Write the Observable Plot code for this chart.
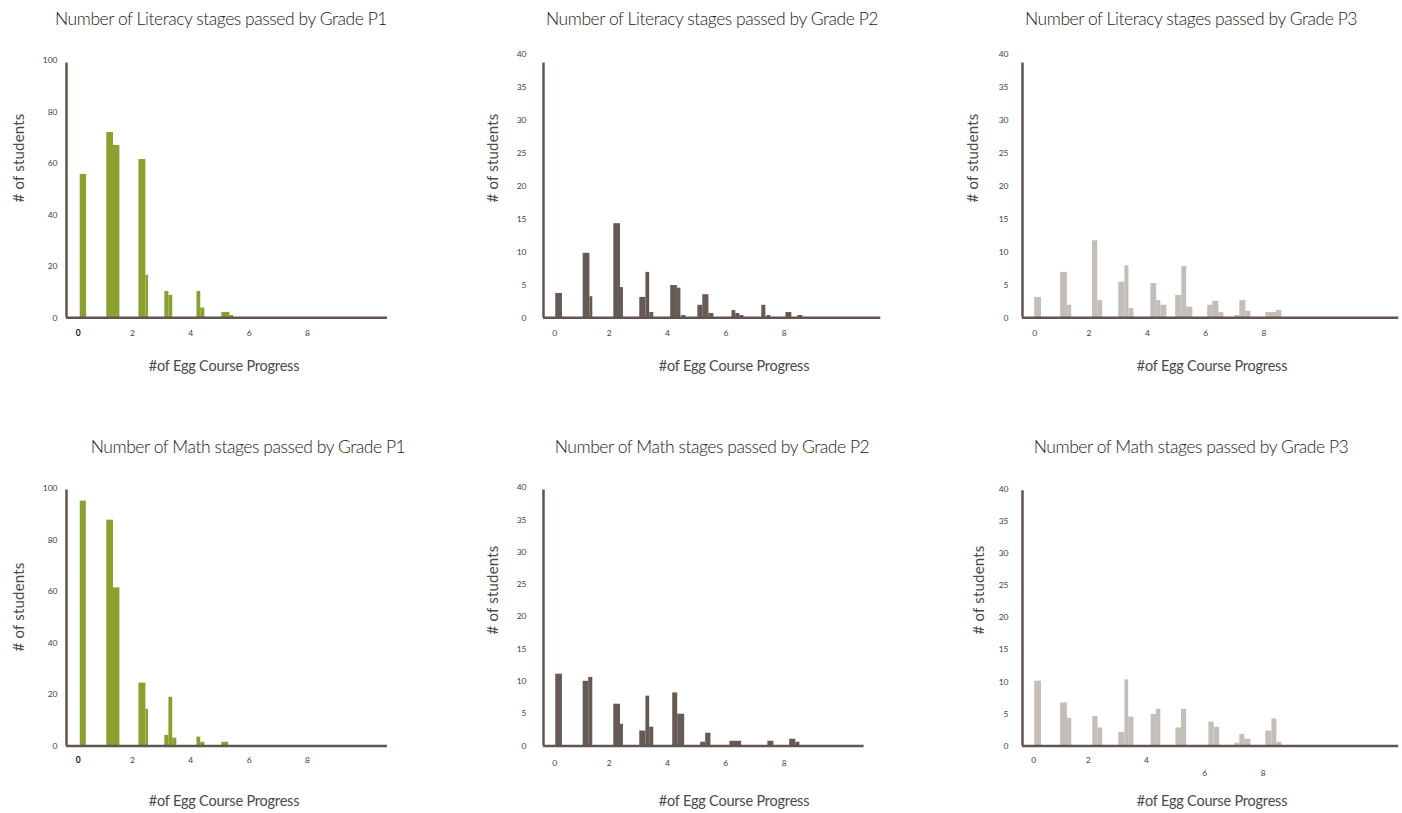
<!DOCTYPE html>
<html><head><meta charset="utf-8">
<script src="https://cdn.jsdelivr.net/npm/d3@7"></script>
<script src="https://cdn.jsdelivr.net/npm/@observablehq/plot@0.6"></script>
<style>
body{margin:0;background:#fff;width:1402px;height:813px;position:relative;overflow:hidden;font-family:Lato,"Open Sans",sans-serif;}
.t{position:absolute;font-size:17.5px;font-weight:300;letter-spacing:-0.45px;color:#222;white-space:nowrap;transform:translate(-50%,-50%);}
.xl{position:absolute;font-size:14.5px;font-weight:400;letter-spacing:-0.2px;color:#4a4a4a;white-space:nowrap;transform:translate(-50%,-50%);}
.yl{position:absolute;font-size:15px;font-weight:400;letter-spacing:0.2px;color:#4a4a4a;white-space:nowrap;transform:translate(-50%,-50%) rotate(-90deg);}
.p{position:absolute;}
</style></head><body>
<script>
// ---- data: [bin start, bin end, # of students] ----
const xTickValues = [0, 2, 4, 6, 8];
const yTicks100 = [0, 20, 40, 60, 80, 100];
const yTicks40 = [0, 5, 10, 15, 20, 25, 30, 35, 40];
const titles = [
  "Number of Literacy stages passed by Grade P1",
  "Number of Literacy stages passed by Grade P2",
  "Number of Literacy stages passed by Grade P3",
  "Number of Math stages passed by Grade P1",
  "Number of Math stages passed by Grade P2",
  "Number of Math stages passed by Grade P3"
];
const xLabel = "#of Egg Course Progress";
const yLabel = "# of students";

const litP1 = [[0.21,0.43,55.7],[1.12,1.35,72.0],[1.35,1.57,67.0],[2.22,2.46,61.5],[2.46,2.55,16.5],
  [3.11,3.25,10.2],[3.25,3.38,8.7],[4.21,4.34,10.2],[4.34,4.48,3.8],[5.06,5.34,2.1],[5.34,5.47,0.9]];
const litP2 = [[0.17,0.40,3.7],[1.11,1.34,9.8],[1.34,1.44,3.2],[2.16,2.39,14.3],[2.39,2.49,4.6],
  [3.05,3.26,3.1],[3.26,3.39,6.9],[3.39,3.53,0.8],[4.11,4.34,4.9],[4.34,4.46,4.5],[4.49,4.63,0.35],
  [5.04,5.21,1.9],[5.21,5.42,3.5],[5.42,5.59,0.66],[6.21,6.34,1.1],[6.34,6.48,0.66],[6.48,6.62,0.35],
  [7.23,7.37,1.9],[7.41,7.54,0.35],[8.06,8.26,0.8],[8.47,8.64,0.35]];
const litP3 = [[0.14,0.37,3.1],[1.03,1.26,6.9],[1.26,1.41,1.9],[2.12,2.30,11.7],[2.30,2.47,2.6],
  [3.02,3.23,5.4],[3.23,3.37,7.9],[3.37,3.54,1.4],[4.12,4.32,5.2],[4.32,4.46,2.6],[4.46,4.67,1.9],
  [4.97,5.18,3.4],[5.18,5.35,7.8],[5.35,5.56,1.6],[6.07,6.24,1.9],[6.24,6.45,2.5],[6.45,6.62,0.8],
  [7.00,7.17,0.35],[7.17,7.38,2.6],[7.38,7.55,1.0],[8.06,8.43,0.8],[8.43,8.61,1.1]];
const mathP1 = [[0.21,0.42,95.1],[1.12,1.35,87.7],[1.35,1.57,61.4],[2.22,2.46,24.4],[2.46,2.55,14.2],
  [3.11,3.25,4.1],[3.25,3.38,18.9],[3.38,3.52,3.0],[4.21,4.34,3.4],[4.34,4.48,1.4],[5.06,5.30,1.4]];
const mathP2 = [[0.17,0.40,11.1],[1.11,1.30,10.0],[1.30,1.44,10.6],[2.16,2.39,6.45],[2.39,2.49,3.35],
  [3.05,3.26,2.3],[3.26,3.39,7.7],[3.39,3.53,2.9],[4.18,4.35,8.2],[4.35,4.59,4.9],[5.14,5.31,0.57],
  [5.31,5.49,1.96],[6.14,6.54,0.72],[7.44,7.65,0.72],[8.19,8.40,1.03],[8.40,8.54,0.57]];
const mathP3 = [[0.17,0.40,10.1],[1.06,1.29,6.7],[1.29,1.44,4.3],[2.16,2.34,4.6],[2.34,2.50,2.8],
  [3.05,3.26,2.1],[3.26,3.39,10.3],[3.39,3.57,4.5],[4.16,4.34,4.9],[4.34,4.49,5.7],[5.01,5.20,2.8],
  [5.20,5.38,5.7],[6.14,6.32,3.7],[6.32,6.51,2.9],[7.03,7.20,0.42],[7.20,7.37,1.8],[7.37,7.58,1.04],
  [8.09,8.30,2.3],[8.30,8.47,4.2],[8.47,8.64,0.57]];

// ---- styles / layout ----
const green = "#8aa132", brown = "#665a55", grey = "#c4beb9", axisColor = "#62544f";
const panels = [
  {data: litP1, color: green, yMax: 100, yTicks: yTicks100, axisTop: 99, xDom: [-0.26, 10.74],
   box: [65.7, 386.7, 317.3, 60], ypad: 9, xpad: 12, title: [221, 18], yl: [18, 158], xl: [224, 365], boldZero: true},
  {data: litP2, color: brown, yMax: 40, yTicks: yTicks40, axisTop: 38.7, xDom: [-0.25, 11.31],
   box: [542.7, 880, 317.3, 54], ypad: 17, xpad: 12, title: [712, 18], yl: [492, 158], xl: [734, 365]},
  {data: litP3, color: grey, yMax: 40, yTicks: yTicks40, axisTop: 38.7, xDom: [-0.28, 12.62],
   box: [1021.7, 1398, 317.3, 54], ypad: 14, xpad: 12, title: [1191, 18], yl: [972, 158], xl: [1212, 365]},
  {data: mathP1, color: green, yMax: 100, yTicks: yTicks100, axisTop: 99.4, xDom: [-0.26, 10.74],
   box: [65.7, 386.7, 745.7, 488.3], ypad: 9, xpad: 11, title: [248, 446], yl: [18, 607], xl: [224, 800], boldZero: true},
  {data: mathP2, color: brown, yMax: 40, yTicks: yTicks40, axisTop: 39.6, xDom: [-0.25, 10.74],
   box: [542.7, 863.3, 745.7, 487.3], ypad: 17, xpad: 14, title: [712, 446], yl: [492, 590], xl: [734, 800]},
  {data: mathP3, color: grey, yMax: 40, yTicks: yTicks40, axisTop: 39.8, xDom: [-0.25, 12.65],
   box: [1021.7, 1398, 745.7, 489.3], ypad: 14, xpad: 11, title: [1191, 446], yl: [978, 590], xl: [1212, 800], dropLate: true}
];

function addText(cls, text, pos) {
  const d = document.createElement("div");
  d.className = cls; d.textContent = text;
  d.style.left = pos[0] + "px"; d.style.top = pos[1] + "px";
  document.body.appendChild(d);
}

panels.forEach((p, i) => {
  const rows = p.data.map(([a, b, n]) => ({x1: a, x2: b, n}));
  const [xl, xr, y0, yT] = p.box;
  const mL = 40, mR = 8, mT = 10, mB = 45;
  const W = (xr - xl) + mL + mR, H = (y0 - yT) + mT + mB;
  const tickFont = {fontSize: 8.5, fill: "#444"};
  const xMain = p.dropLate ? [2, 4] : xTickValues.filter(v => v !== 0);
  const marks = [
    Plot.rectY(rows, {x1: "x1", x2: "x2", y: "n", fill: p.color}),
    Plot.ruleY([0], {stroke: axisColor, strokeWidth: 2.5}),
    Plot.ruleX([p.xDom[0]], {y1: () => 0, y2: () => p.axisTop, stroke: axisColor, strokeWidth: 2.5}),
    Plot.axisY(p.yTicks, {tickSize: 0, tickPadding: p.ypad, label: null, ...tickFont}),
    Plot.axisX(xMain, {tickSize: 0, tickPadding: p.xpad, label: null, ...tickFont}),
    Plot.axisX([0], {tickSize: 0, tickPadding: p.xpad, label: null, dx: 4, fontSize: 8.5,
      fill: p.boldZero ? "#111" : "#444", fontWeight: p.boldZero ? "bold" : "normal"})
  ];
  if (p.dropLate) marks.push(Plot.axisX([6, 8], {tickSize: 0, tickPadding: p.xpad + 13, label: null, ...tickFont}));
  const chart = Plot.plot({
    width: W, height: H, marginLeft: mL, marginRight: mR, marginTop: mT, marginBottom: mB,
    x: {domain: p.xDom}, y: {domain: [0, p.yMax]},
    style: {fontFamily: "Lato, 'Open Sans', sans-serif", background: "transparent", overflow: "visible"},
    marks
  });
  chart.classList.add("p");
  chart.style.left = (xl - mL) + "px";
  chart.style.top = (yT - mT) + "px";
  document.body.appendChild(chart);
  addText("t", titles[i], p.title);
  addText("yl", yLabel, p.yl);
  addText("xl", xLabel, p.xl);
});
</script>
</body></html>
